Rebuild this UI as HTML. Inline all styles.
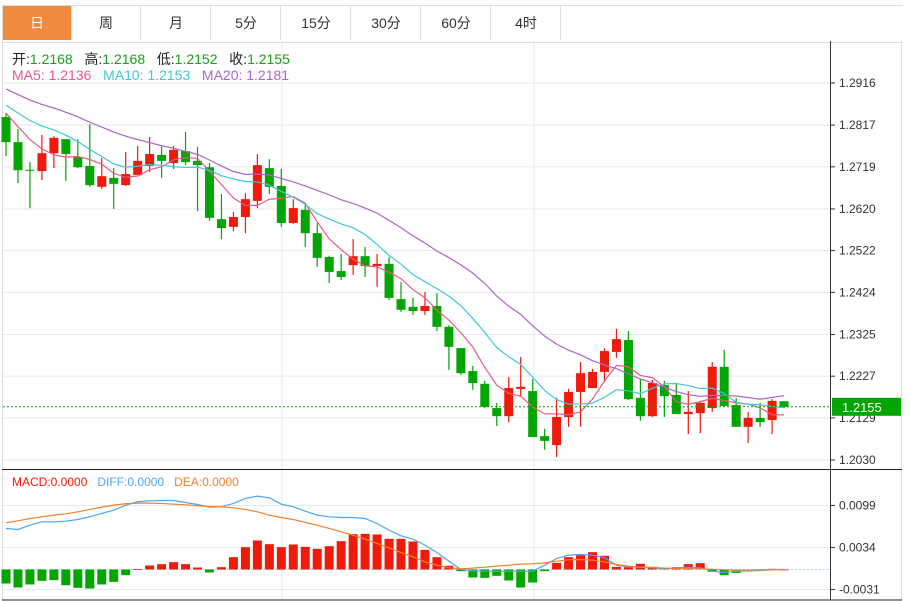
<!DOCTYPE html>
<html><head><meta charset="utf-8">
<style>
body{margin:0;background:#fff;font-family:"Liberation Sans","Noto Sans CJK SC",sans-serif;}
#wrap{position:relative;width:910px;height:601px;overflow:hidden;background:#fff}
.tab{position:absolute;top:6px;height:34px;width:69px;border-right:1px solid #ddd;font-size:14px;color:#333;text-align:center;line-height:34px;box-sizing:border-box}
</style></head><body>
<div id="wrap">
<div style="position:absolute;left:2px;top:5px;width:900px;height:36px;border-top:1px solid #ddd;border-bottom:1px solid #ddd;border-left:1px solid #ddd"></div>
<div class="tab" style="left:3px;background:#f28a3e;color:#fff">日</div>
<div class="tab" style="left:72px">周</div>
<div class="tab" style="left:142px">月</div>
<div class="tab" style="left:212px">5分</div>
<div class="tab" style="left:282px">15分</div>
<div class="tab" style="left:352px">30分</div>
<div class="tab" style="left:422px">60分</div>
<div class="tab" style="left:492px">4时</div>
<svg id="svg" width="910" height="601" style="position:absolute;left:0;top:0"></svg>
</div>
<script>
const opens=[1.2836,1.2777,1.2712,1.2709,1.2751,1.2784,1.2742,1.2721,1.2672,1.2693,1.2676,1.2700,1.2721,1.2747,1.2728,1.2756,1.2733,1.2718,1.2596,1.2578,1.2601,1.2639,1.2716,1.2674,1.2587,1.2618,1.2563,1.2507,1.2474,1.2488,1.2509,1.2486,1.2491,1.2408,1.2390,1.2380,1.2392,1.2343,1.2293,1.2239,1.2209,1.2152,1.2133,1.2197,1.2192,1.2086,1.2065,1.2131,1.2190,1.2199,1.2237,1.2284,1.2312,1.2176,1.2133,1.2206,1.2183,1.2138,1.2140,1.2152,1.2249,1.2159,1.2108,1.2129,1.2124,1.2168];
const closes=[1.2777,1.2711,1.2711,1.2751,1.2787,1.2749,1.2718,1.2676,1.2697,1.2679,1.2702,1.2733,1.2749,1.2733,1.2759,1.2730,1.2723,1.2599,1.2575,1.2601,1.2643,1.2723,1.2672,1.2587,1.2622,1.2563,1.2505,1.2472,1.2460,1.2509,1.2486,1.2491,1.2411,1.2383,1.2380,1.2392,1.2343,1.2296,1.2234,1.2211,1.2155,1.2133,1.2199,1.2202,1.2084,1.2075,1.2131,1.2190,1.2234,1.2237,1.2286,1.2314,1.2173,1.2133,1.2211,1.2180,1.2138,1.2143,1.2164,1.2249,1.2157,1.2108,1.2129,1.2119,1.2169,1.2155];
const highs=[1.2845,1.2808,1.2730,1.2794,1.2791,1.2784,1.2784,1.2820,1.2740,1.2716,1.2754,1.2768,1.2789,1.2766,1.2768,1.2801,1.2766,1.2728,1.2655,1.2613,1.2657,1.2749,1.2737,1.2714,1.2643,1.2629,1.2587,1.2510,1.2514,1.2549,1.2531,1.2514,1.2507,1.2448,1.2411,1.2425,1.2422,1.2347,1.2293,1.2251,1.2216,1.2164,1.2225,1.2272,1.2220,1.2103,1.2176,1.2197,1.2260,1.2244,1.2293,1.2338,1.2333,1.2220,1.2218,1.2216,1.2211,1.2192,1.2169,1.2260,1.2289,1.2176,1.2143,1.2164,1.2173,1.2168];
const lows=[1.2744,1.2681,1.2622,1.2688,1.2716,1.2686,1.2716,1.2672,1.2667,1.2620,1.2674,1.2700,1.2707,1.2693,1.2714,1.2723,1.2615,1.2592,1.2549,1.2568,1.2563,1.2622,1.2655,1.2578,1.2585,1.2531,1.2484,1.2446,1.2453,1.2465,1.2460,1.2437,1.2406,1.2378,1.2371,1.2371,1.2333,1.2242,1.2230,1.2195,1.2152,1.2110,1.2119,1.2178,1.2084,1.2054,1.2037,1.2108,1.2108,1.2199,1.2213,1.2270,1.2171,1.2122,1.2131,1.2131,1.2138,1.2091,1.2093,1.2143,1.2155,1.2108,1.2070,1.2108,1.2091,1.2152];
const priorCloses=[1.2975,1.2968,1.2960,1.2952,1.2945,1.2938,1.2930,1.2922,1.2915,1.2895,1.2895,1.2888,1.2882,1.2878,1.2872,1.2868,1.2864,1.2860,1.2856];
const priceTicks=[1.2916,1.2817,1.2719,1.2620,1.2522,1.2424,1.2325,1.2227,1.2129,1.2030];
// MACD values in units of 1e-4
const histE4=[-21.7,-27.9,-23.2,-17.5,-16.5,-24.3,-28.4,-29.4,-23.2,-19.1,-8.8,0.5,6.2,8.3,11.4,8.3,3.1,-4.6,3.6,19.1,34.6,44.9,39.2,34.6,38.7,35.1,32.0,36.1,43.9,54.7,55.2,54.2,47.5,47.5,43.3,30.4,19.1,5.7,-2.6,-12.4,-12.9,-9.8,-17.0,-27.9,-20.1,-2.6,10.3,19.1,22.2,26.8,21.2,4.1,3.6,8.8,4.1,1.5,3.6,8.3,9.8,-3.6,-8.8,-5.2,-2.6,-0.5,1.0,0];
const diffE4=[63.5,61.9,68.6,73.8,73.8,74.8,77.4,81.5,86.7,91.8,99.6,104.8,106.3,106.8,106.8,103.7,100.6,96.5,97.0,102.2,109.9,113.5,110.9,101.1,97.0,90.3,84.1,81.5,80.5,80.5,78.9,71.2,60.9,52.1,46.9,37.7,26.3,12.9,0,-2.1,-2.6,-2.6,-2.6,-2.6,-2.6,6.7,17.0,22.2,23.2,22.2,18.1,6.7,4.1,3.6,2.6,0.5,2.6,3.6,2.6,-2.6,-4.6,-2.6,-2.1,-1.5,-0.5,0];
const deaE4=[72.2,75.3,78.9,81.5,84.1,86.2,89.3,92.9,96.5,99.6,101.7,102.7,102.7,102.2,101.1,100.1,98.6,97.5,97.0,95.5,92.9,89.3,84.1,80.5,77.4,72.8,68.6,63.5,58.3,53.1,47.0,40.2,33.5,26.3,19.6,11.9,6.7,2.6,1.0,2.1,3.6,5.2,6.7,8.3,8.8,10.3,12.9,15.0,15.5,14.4,11.9,7.7,5.2,3.6,3.1,2.1,1.5,1.5,1.0,0.5,-0.5,-1.0,-1.0,-0.5,0,0];
const macdTicks=[0.0099,0.0034,-0.0031];

const NS='http://www.w3.org/2000/svg';
const svg=document.getElementById('svg');
function mk(tag,attrs,parent){const e=document.createElementNS(NS,tag);for(const k in attrs)e.setAttribute(k,attrs[k]);(parent||svg).appendChild(e);return e;}
const x=i=>6+i*11.97;
const yP=p=>83+(1.2916-p)*4255;
const yM=v=>569.5-v*6462;
const RED='#f01a0a',GREEN='#02a502';

let g=mk('g',{});


priceTicks.forEach(t=>{mk('line',{x1:3,x2:830,y1:yP(t),y2:yP(t),stroke:'#e3ebf2'},g);});
macdTicks.forEach(t=>{mk('line',{x1:3,x2:830,y1:yM(t),y2:yM(t),stroke:'#e3ebf2'},g);});
[282,534].forEach(v=>{mk('line',{x1:v,x2:v,y1:41,y2:600,stroke:'#e3ebf2'},g);});
mk('line',{x1:2.5,x2:2.5,y1:41,y2:600,stroke:'#ddd'});
mk('line',{x1:901.5,x2:901.5,y1:41,y2:600,stroke:'#ddd'});
const ax=mk('line',{x1:830.5,x2:830.5,y1:41,y2:600,stroke:'#333'});


mk('line',{x1:2,x2:902,y1:469.5,y2:469.5,stroke:'#222'});
mk('line',{x1:2,x2:902,y1:600,y2:600,stroke:'#222'});

priceTicks.forEach(t=>{
 mk('line',{x1:830,x2:835,y1:yP(t),y2:yP(t),stroke:'#333'});
 const tx=mk('text',{x:839,y:yP(t)+4,'font-size':12,fill:'#333'});tx.textContent=t.toFixed(4);
 
 
});
macdTicks.forEach(t=>{
 mk('line',{x1:830,x2:835,y1:yM(t),y2:yM(t),stroke:'#333'});
 const tx=mk('text',{x:839,y:yM(t)+4,'font-size':12,fill:'#333'});tx.textContent=t.toFixed(4);
 
 
});

closes.forEach((c,i)=>{
 const o=opens[i],up=c>=o,col=up?RED:GREEN;
 const cg=mk('g',{});
 
 
 mk('line',{x1:x(i),x2:x(i),y1:yP(highs[i]),y2:yP(lows[i]),stroke:col,'stroke-width':1.2},cg);
 const top=yP(Math.max(o,c)),bot=yP(Math.min(o,c));
 mk('rect',{x:x(i)-4.5,y:top,width:9,height:Math.max(1,bot-top),fill:col},cg);
});

const all=priorCloses.concat(closes),off=priorCloses.length;
function ma(n){return closes.map((_,i)=>{let s=0;for(let k=0;k<n;k++)s+=all[off+i-k];return s/n;});}
[[5,'#ea5a86','ma5-line'],[10,'#42c6dc','ma10-line'],[20,'#b163c9','ma20-line']].forEach(([n,col,name])=>{
 const v=ma(n);
 const p=mk('polyline',{points:v.map((m,i)=>x(i)+','+yP(m)).join(' '),fill:'none',stroke:col,'stroke-width':1.2});
 
 
});
const last=closes[closes.length-1];
const cl=mk('line',{x1:3,x2:830,y1:yP(last),y2:yP(last),stroke:GREEN,'stroke-dasharray':'2,2'});


const lb=mk('rect',{x:832,y:yP(last)-9,width:69,height:18,fill:GREEN});


const lt=mk('text',{x:842,y:yP(last)+5,'font-size':13,fill:'#fff'});lt.textContent=last.toFixed(4);

mk('line',{x1:3,x2:830,y1:569.5,y2:569.5,stroke:'#9fd8ef','stroke-dasharray':'2,2'});
histE4.forEach((h,i)=>{
 const v=h*1e-4,y0=yM(0),y1=yM(v);
 const r=mk('rect',{x:x(i)-4.5,y:Math.min(y0,y1),width:9,height:Math.max(0.8,Math.abs(y1-y0)),fill:h>=0?RED:GREEN});
 
 
});
[[diffE4,'#4ea6ee','diff-line'],[deaE4,'#f4802a','dea-line']].forEach(([arr,col,name])=>{
 const p=mk('polyline',{points:arr.map((v,i)=>x(i)+','+yM(v*1e-4)).join(' '),fill:'none',stroke:col,'stroke-width':1.2});
 
 
});
</script>
<div style="position:absolute;left:12px;top:49px;font-size:14px;color:#222;white-space:nowrap">开:<span style="color:#1aa01a">1.2168</span>&nbsp;&nbsp; 高:<span style="color:#1aa01a">1.2168</span>&nbsp;&nbsp; 低:<span style="color:#1aa01a">1.2152</span>&nbsp;&nbsp; 收:<span style="color:#1aa01a">1.2155</span></div>
<div style="position:absolute;left:12px;top:67px;font-size:14px;white-space:nowrap"><span style="color:#ea5a86">MA5: 1.2136</span>&nbsp;&nbsp; <span style="color:#42c6dc">MA10: 1.2153</span>&nbsp;&nbsp; <span style="color:#b163c9">MA20: 1.2181</span></div>
<div style="position:absolute;left:12px;top:475px;font-size:12px;white-space:nowrap"><span style="color:#f01a0a">MACD:0.0000</span>&nbsp;&nbsp; <span style="color:#4ea6ee">DIFF:0.0000</span>&nbsp;&nbsp; <span style="color:#f4802a">DEA:0.0000</span></div>
</body></html>
